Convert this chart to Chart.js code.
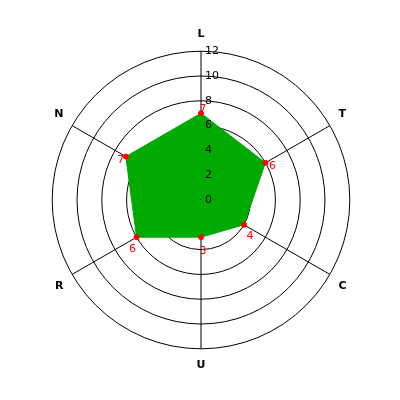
<!DOCTYPE html>
<html>
<head>
<meta charset="utf-8">
<script src="https://cdn.jsdelivr.net/npm/chart.js@4"></script>
<style>
  html, body { margin: 0; padding: 0; background: #fff; }
  #wrap { width: 400px; height: 400px; }
</style>
</head>
<body>
<div id="wrap"><canvas id="radar"></canvas></div>
<script>
const categories = ['L', 'T', 'C', 'U', 'R', 'N'];
const values = [7, 6, 4, 3, 6, 7];
const tickValues = [0, 2, 4, 6, 8, 10, 12];

// where each red value label sits relative to its point
const labelOffsets = [[2, -4], [7, 3], [6, 11], [2, 14], [-4, 12], [-5, 4]];

const tickLabelPlugin = {
    id: 'tickLabels',
    afterDatasetsDraw(chart) {
        const scale = chart.scales.r;
        const c = chart.ctx;
        c.save();
        c.font = '11px "DejaVu Sans"';
        c.fillStyle = '#000';
        c.textAlign = 'left';
        c.textBaseline = 'middle';
        tickValues.forEach(v => {
            const d = scale.getDistanceFromCenterForValue(v);
            c.fillText(String(v), scale.xCenter + 4, scale.yCenter - d);
        });
        c.fillRect(scale.xCenter - 1, scale.yCenter - 1, 1, 1);

        // value labels next to the points
        const meta = chart.getDatasetMeta(0);
        c.fillStyle = '#ff0000';
        c.textAlign = 'center';
        meta.data.forEach((pt, i) => {
            c.fillText(String(values[i]), pt.x + labelOffsets[i][0], pt.y + labelOffsets[i][1]);
        });
        c.restore();
    }
};

const ctx = document.getElementById('radar').getContext('2d');
const radarChart = new Chart(ctx, {
    type: 'radar',
    data: {
        labels: categories,
        datasets: [{
            data: values,
            backgroundColor: 'rgb(0, 170, 0)',
            borderColor: 'rgb(0, 170, 0)',
            borderWidth: 1,
            fill: true,
            pointBackgroundColor: '#ff0000',
            pointBorderColor: '#ff0000',
            pointRadius: 2.5,
            pointBorderWidth: 1
        }]
    },
    options: {
        responsive: true,
        maintainAspectRatio: false,
        animation: false,
        layout: { padding: { top: 28, bottom: 28, left: 28, right: 26 } },
        plugins: {
            legend: { display: false },
            tooltip: { enabled: false }
        },
        scales: {
            r: {
                min: 0,
                max: 12,
                ticks: { stepSize: 2, display: false },
                grid: { circular: true, color: '#000', lineWidth: 1 },
                angleLines: { color: '#000', lineWidth: 1 },
                pointLabels: {
                    color: '#000',
                    padding: 10,
                    font: { family: 'DejaVu Sans', size: 11, weight: 'bold' }
                }
            }
        }
    },
    plugins: [tickLabelPlugin]
});
</script>
</body>
</html>
